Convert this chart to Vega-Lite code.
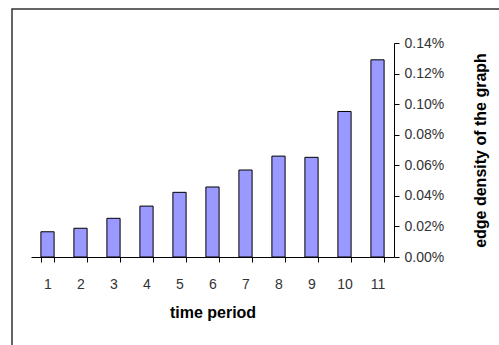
{
  "$schema": "https://vega.github.io/schema/vega-lite/v6.json",
  "autosize": "none",
  "width": 490,
  "height": 340,
  "padding": {"left": 12, "top": 9, "right": 0, "bottom": 0},
  "background": "white",
  "config": {
    "view": {"stroke": "#333333", "strokeWidth": 1.5},
    "font": "Liberation Sans"
  },
  "data": {
    "values": [
      {"period": "1", "density": 0.000165},
      {"period": "2", "density": 0.000188},
      {"period": "3", "density": 0.000253},
      {"period": "4", "density": 0.000333},
      {"period": "5", "density": 0.000423},
      {"period": "6", "density": 0.000458},
      {"period": "7", "density": 0.000569},
      {"period": "8", "density": 0.00066},
      {"period": "9", "density": 0.000652},
      {"period": "10", "density": 0.000952},
      {"period": "11", "density": 0.00129}
    ]
  },
  "mark": {"type": "bar", "fill": "#9999FF", "stroke": "#000000", "strokeWidth": 1},
  "encoding": {
    "x": {
      "field": "period",
      "type": "ordinal",
      "sort": null,
      "scale": {"range": [19, 382], "paddingInner": 0.6, "paddingOuter": 0.3},
      "axis": {
        "title": "time period",
        "titleFont": "Liberation Sans",
        "titleFontSize": 16,
        "titleFontWeight": "bold",
        "titleColor": "#000000",
        "titlePadding": 13,
        "labelAngle": 0,
        "labelFontSize": 14,
        "labelColor": "#333333",
        "labelPadding": 15,
        "tickBand": "extent",
        "tickSize": 5,
        "tickColor": "#000000",
        "domainColor": "#000000",
        "offset": -92
      }
    },
    "y": {
      "field": "density",
      "type": "quantitative",
      "scale": {"domain": [0, 0.0014], "range": [248, 34], "nice": false},
      "axis": {
        "orient": "right",
        "offset": -108,
        "values": [0, 0.0002, 0.0004, 0.0006, 0.0008, 0.001, 0.0012, 0.0014],
        "format": ".2%",
        "grid": false,
        "title": "edge density of the graph",
        "titleFont": "Liberation Sans",
        "titleFontSize": 16,
        "titleFontWeight": "bold",
        "titleColor": "#000000",
        "titleAngle": -90,
        "titleX": 86,
        "titleY": 141,
        "titleAlign": "center",
        "titleBaseline": "middle",
        "labelFontSize": 14,
        "labelColor": "#333333",
        "labelPadding": 5,
        "tickSize": 5,
        "tickColor": "#000000",
        "domainColor": "#000000"
      }
    }
  }
}
